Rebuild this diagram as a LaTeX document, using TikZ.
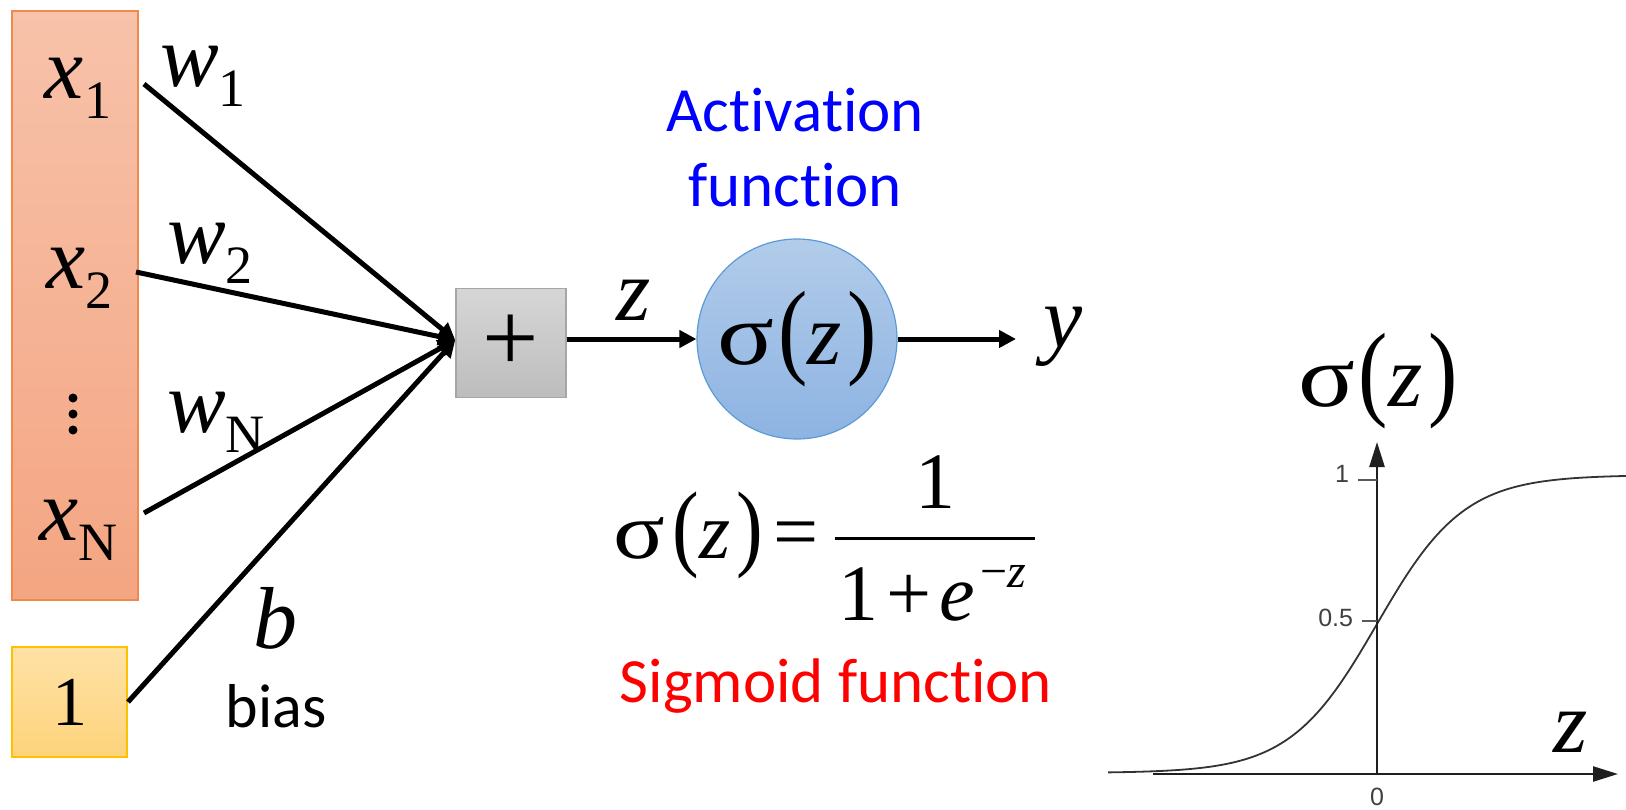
\documentclass[tikz,border=0pt]{standalone}
\usepackage{fontspec}
\setmainfont{Liberation Serif}[ItalicFont={Liberation Serif Italic}]
\newfontfamily\calibri{Carlito}[Ligatures=NoCommon]
\newfontfamily\arialf{Liberation Sans}
\usetikzlibrary{arrows.meta}
\definecolor{orT}{HTML}{F7C2AA}
\definecolor{orB}{HTML}{F4A582}
\definecolor{orD}{HTML}{F08A4B}
\definecolor{yeT}{HTML}{FFE2A6}
\definecolor{yeB}{HTML}{FDD37C}
\definecolor{yeD}{HTML}{FFC000}
\definecolor{grT}{HTML}{D6D6D6}
\definecolor{grB}{HTML}{BDBDBD}
\definecolor{grD}{HTML}{A6A6A6}
\definecolor{blT}{HTML}{B2CCEA}
\definecolor{blB}{HTML}{8DB3E2}
\definecolor{blD}{HTML}{5B9BD5}
\definecolor{actblue}{HTML}{0000FF}
\definecolor{sigred}{HTML}{FF0000}
\newcommand\fsz[1]{\fontsize{#1}{#1}\selectfont}
\newcommand\vpar[1]{\scalebox{1}[1.2]{#1}}
\newcommand\sig{\scalebox{1.2}[1]{σ}}
\newcommand\sbs[1]{\raisebox{-20pt}{\fsz{54}#1}}
\tikzset{
  txt/.style={inner sep=0pt, outer sep=0pt},
  wire/.style={line width=5pt, -{Triangle[length=17pt,width=17pt]}},
  plotaxis/.style={line width=2.5pt, color=black!88, -{Triangle[length=25pt,width=15pt]}},
  tick/.style={line width=1.5pt, color=black!65},
  ticklab/.style={txt, font=\arialf\fsz{25}, text=black!75},
}
\begin{document}
\begin{tikzpicture}[x=1pt,y=-1pt]
\useasboundingbox (0,0) rectangle (1626,809);
% input boxes
\node[draw=orD, line width=1.5pt, top color=orT, bottom color=orB, minimum width=126pt, minimum height=589pt, inner sep=0pt] (inbox) at (75,305.5) {};
\node[draw=yeD, line width=1.5pt, top color=yeT, bottom color=yeB, minimum width=115pt, minimum height=110pt, inner sep=0pt] (onebox) at (69.5,702) {\fsz{70}1};
% input labels
\node[txt, anchor=base west] (x1) at (45,98) {\fsz{88}\textit{x}\sbs{1}};
\node[txt, anchor=base west] (x2) at (46,288) {\fsz{88}\textit{x}\sbs{2}};
\node[txt, anchor=base west] (xN) at (39,540) {\fsz{88}\textit{x}\sbs{N}};
\fill (73,398) circle (4.5pt) (73,414) circle (4.5pt) (73,430) circle (4.5pt);
% weights
\node[txt, anchor=base west] (w1) at (160,86) {\fsz{88}\textit{w}\sbs{1}};
\node[txt, anchor=base west] (w2) at (167,263) {\fsz{88}\textit{w}\sbs{2}};
\node[txt, anchor=base west] (wN) at (167,432) {\fsz{88}\textit{w}\sbs{N}};
\node[txt, anchor=base west] (b) at (253,648) {\fsz{88}\textit{b}};
\node[txt, anchor=base] (bias) at (276,727) {\calibri\fsz{62}bias};
% sum and activation
\node[draw=grD, line width=1.5pt, top color=grT, bottom color=grB, minimum width=110pt, minimum height=109pt, inner sep=0pt] (sum) at (511,343) {\raisebox{-3pt}{\fsz{100}+}};
\node[circle, draw=blD, line width=1.2pt, top color=blT, bottom color=blB, minimum size=200pt, inner sep=0pt] (act) at (797,339) {\raisebox{6pt}{\fsz{88}\sig\hspace{4pt}\vpar{(}\textit{z}\hspace{6pt}\vpar{)}}};
\node[txt, anchor=south, align=center, text=actblue, font=\calibri\fontsize{63}{75}\selectfont] (actlab) at (795,207) {Activation\\function};
% connectors
\coordinate (s1) at (144,84);
\coordinate (s2) at (136,272);
\coordinate (sN) at (144,513);
\coordinate (sb) at (128,702);
\draw[wire] (s1) -- ([yshift=3pt]sum.west);
\draw[wire] (s2) -- ([yshift=3pt]sum.west);
\draw[wire] (sN) -- ([yshift=3pt]sum.west);
\draw[wire] (sb) -- ([yshift=3pt]sum.west);
\draw[wire] (sum.east |- act.west) -- (act.west);
\node[txt, anchor=base west] (zlab) at (616,320) {\fsz{88}\textit{z}};
\coordinate (yend) at (1016,339);
\draw[wire] (act.east) -- (yend);
\node[txt, anchor=base west] (ylab) at (1043,347) {\fsz{88}\textit{y}};
% formula
\node[txt, anchor=base west] (sigl) at (613,558) {\fsz{80}\sig\hspace{8pt}\vpar{(}\textit{z}\hspace{6pt}\vpar{)}\hspace{10pt}=};
\node[txt, anchor=base] (num) at (935,508) {\fsz{80}1};
\draw[line width=3pt] (835,538) -- (1035,538);
\node[txt, anchor=base west] (den) at (838,620) {\fsz{80}1\hspace{8pt}+\hspace{8pt}\textit{e}\raisebox{33pt}{\fsz{48}\hspace{6pt}−\textit{z}}};
\node[txt, anchor=base, text=sigred] (sig) at (836,702) {\calibri\fsz{63}Sigmoid function};
% sigmoid plot
\draw[line width=1.8pt, color=black!80, domain=1108:1626, samples=200, smooth] plot (\x, {773 - 298/(1+exp(-0.023*(\x-1377)))});
\draw[plotaxis] (1153,774) -- (1618,774);
\draw[plotaxis] (1377,774) -- (1377,442);
\draw[tick] (1358,480) -- (1377,480);
\draw[tick] (1362,621) -- (1377,621);
\node[ticklab, anchor=base east] (t1) at (1349,482) {1};
\node[ticklab, anchor=east] (t05) at (1353,618) {0.5};
\node[ticklab, anchor=north] (t0) at (1377,788) {0};
\node[txt, anchor=base west] (sigp) at (1298,406) {\fsz{88}\sig\hspace{4pt}\vpar{(}\textit{z}\hspace{6pt}\vpar{)}};
\node[txt, anchor=base west] (zp) at (1553,752) {\fsz{88}\textit{z}};
\end{tikzpicture}
\end{document}
